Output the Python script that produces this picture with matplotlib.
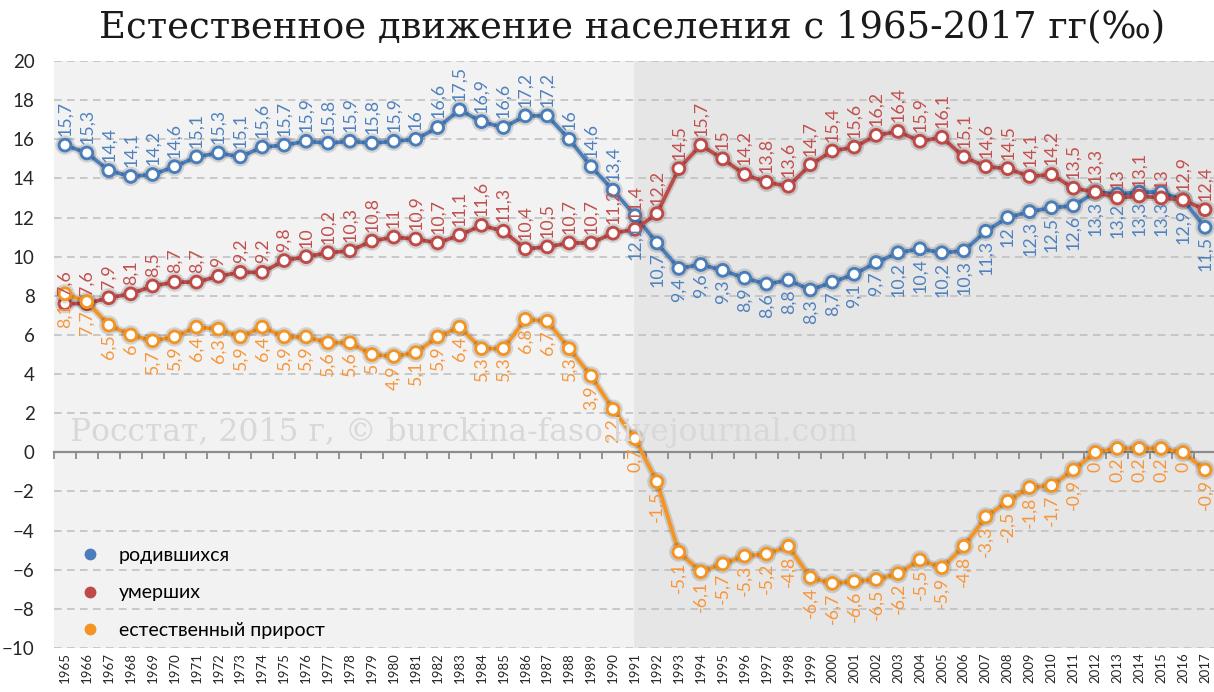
import matplotlib
matplotlib.use("Agg")
import matplotlib.pyplot as plt
import matplotlib.patheffects as pe
from matplotlib.lines import Line2D

years = list(range(1965, 2018))
births = [15.7, 15.3, 14.4, 14.1, 14.2, 14.6, 15.1, 15.3, 15.1, 15.6, 15.7, 15.9, 15.8, 15.9,
          15.8, 15.9, 16.0, 16.6, 17.5, 16.9, 16.6, 17.2, 17.2, 16.0, 14.6, 13.4, 12.1, 10.7,
          9.4, 9.6, 9.3, 8.9, 8.6, 8.8, 8.3, 8.7, 9.1, 9.7, 10.2, 10.4, 10.2, 10.3, 11.3, 12.0,
          12.3, 12.5, 12.6, 13.3, 13.2, 13.3, 13.3, 12.9, 11.5]
deaths = [7.6, 7.6, 7.9, 8.1, 8.5, 8.7, 8.7, 9.0, 9.2, 9.2, 9.8, 10.0, 10.2, 10.3, 10.8, 11.0,
          10.9, 10.7, 11.1, 11.6, 11.3, 10.4, 10.5, 10.7, 10.7, 11.2, 11.4, 12.2, 14.5, 15.7,
          15.0, 14.2, 13.8, 13.6, 14.7, 15.4, 15.6, 16.2, 16.4, 15.9, 16.1, 15.1, 14.6, 14.5,
          14.1, 14.2, 13.5, 13.3, 13.0, 13.1, 13.0, 12.9, 12.4]
growth = [8.1, 7.7, 6.5, 6.0, 5.7, 5.9, 6.4, 6.3, 5.9, 6.4, 5.9, 5.9, 5.6, 5.6, 5.0, 4.9, 5.1,
          5.9, 6.4, 5.3, 5.3, 6.8, 6.7, 5.3, 3.9, 2.2, 0.7, -1.5, -5.1, -6.1, -5.7, -5.3, -5.2,
          -4.8, -6.4, -6.7, -6.6, -6.5, -6.2, -5.5, -5.9, -4.8, -3.3, -2.5, -1.8, -1.7, -0.9,
          0.0, 0.2, 0.2, 0.2, 0.0, -0.9]
series_names = ["родившихся", "умерших", "естественный прирост"]
line_colors = ["#4a7ebb", "#be4b48", "#f39423"]
label_colors = ["#4f81bd", "#c0504d", "#f7963a"]
title = "Естественное движение населения с 1965-2017 гг(‰)"
watermark = "Росстат, 2015 г, © burckina-faso.livejournal.com"
shade_from = 1991

W, H = 1214, 692
fig = plt.figure(figsize=(W / 100, H / 100), dpi=100, facecolor="white")
ax = fig.add_axes([54 / W, (H - 648) / H, (1216 - 54) / W, 587 / H])
ax.set_facecolor("#f2f2f2")

n = len(years)
xs = list(range(n))
ax.set_xlim(-0.5, n - 0.5)
ax.set_ylim(-10, 20)

ax.axvspan(years.index(shade_from) - 0.05, n - 0.5, color="#e6e6e6", zorder=0, lw=0)

# grid
ax.set_yticks(range(-10, 21, 2))
ax.yaxis.grid(True, linestyle=(0, (5, 3.5)), color="#bdbdbd", lw=1.1)
ax.set_axisbelow(True)
for s in ["left", "right", "top"]:
    ax.spines[s].set_visible(False)
ax.spines["bottom"].set_position(("data", 0))
ax.spines["bottom"].set_color("#8c8c8c")
ax.spines["bottom"].set_linewidth(1.6)
ax.spines["bottom"].set_zorder(2)
ax.set_xticks([i + 0.5 for i in xs[:-1]] + [-0.5])
ax.tick_params(axis="x", direction="out", length=5, width=1.3, color="#8c8c8c", labelbottom=False)
ax.tick_params(axis="y", length=0, pad=14, labelsize=13.5, labelcolor="#262626")
for t in ax.get_yticklabels():
    t.set_family("Lato")

sec = ax.secondary_xaxis("bottom")
sec.set_xticks(xs, [str(y) for y in years])
sec.tick_params(length=0, pad=3, labelsize=9.5, labelcolor="#262626", labelrotation=90)
sec.spines["bottom"].set_visible(False)
for t in sec.get_xticklabels():
    t.set_family("Lato")

# watermark
fig.text(70 / W, 1 - 433 / H, watermark, family="DejaVu Serif", fontsize=22.6,
         color="#d8d8d8", ha="left", va="center", zorder=1)

shadow = [pe.Stroke(linewidth=5.5, foreground="black", alpha=0.13), pe.Normal()]
data = [births, deaths, growth]
for k, vals in enumerate(data):
    ax.plot(xs, vals, color=line_colors[k], lw=2.7, marker="o", markersize=8.5,
            markerfacecolor="white", markeredgecolor=line_colors[k], markeredgewidth=2.1,
            zorder=3 + k, path_effects=shadow, solid_joinstyle="round")

def fmt(v):
    s = f"{v:.1f}".rstrip("0").rstrip(".")
    if s == "-0":
        s = "0"
    return s.replace(".", ",")

split = years.index(1991)
for k, vals in enumerate(data):
    for i, v in enumerate(vals):
        if k == 0:
            up = i < split
        elif k == 1:
            up = True
        else:
            up = False
        ax.annotate(fmt(v), (i, v), xytext=(0, 6.5 if up else -6.5), textcoords="offset points",
                    rotation=90, ha="center", va="bottom" if up else "top",
                    color=label_colors[k], fontsize=12.8, family="Lato", zorder=6)

handles = [Line2D([], [], ls="none", marker="o", markersize=7.5, color=c) for c in line_colors]
ax.legend(handles, series_names, loc="upper left", bbox_to_anchor=(0.0224, 0.172),
          frameon=False, borderpad=0, borderaxespad=0, handlelength=1.0,
          handletextpad=1.0, labelspacing=1.05, prop={"family": "Lato", "size": 14})

fig.text(632 / W, 1 - 28 / H, title, family="DejaVu Serif", fontsize=26.6,
         ha="center", va="center", color="#1a1a1a")

fig.savefig("out.png", dpi=100, facecolor="white")
